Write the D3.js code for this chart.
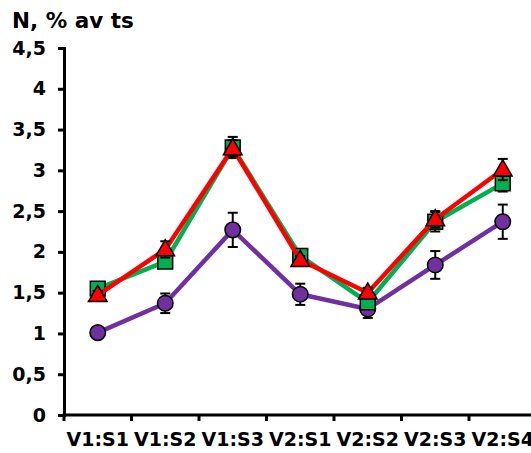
<!DOCTYPE html>
<html>
<head>
<meta charset="utf-8">
<script src="https://cdn.jsdelivr.net/npm/d3@7"></script>
<style>
  body { margin: 0; background: #fff; overflow: hidden; }
  svg { display: block; font-family: "DejaVu Sans", Verdana, sans-serif; font-weight: bold; }
</style>
</head>
<body>
<script>
// data
const categories = ["V1:S1", "V1:S2", "V1:S3", "V2:S1", "V2:S2", "V2:S3", "V2:S4"];
const greenVals = [1.55, 1.88, 3.28, 1.95, 1.38, 2.37, 2.84];
const greenErr  = [0.05, 0.06, 0.13, 0.06, 0.06, 0.12, 0.10];
const redVals   = [1.47, 2.03, 3.27, 1.90, 1.50, 2.40, 3.01];
const redErr    = [0.05, 0.10, 0.10, 0.05, 0.06, 0.10, 0.13];
const purpleVals = [1.01, 1.37, 2.27, 1.48, 1.30, 1.84, 2.37];
const purpleErr  = [0.06, 0.12, 0.21, 0.13, 0.11, 0.17, 0.21];
const yTicks = [0, 0.5, 1, 1.5, 2, 2.5, 3, 3.5, 4, 4.5];

const width = 531, height = 453;
const x0 = 64, bandW = 67.5;

const svg = d3.select("body").append("svg")
    .attr("width", width)
    .attr("height", height);

const x = d3.scaleBand()
    .domain(categories)
    .range([x0, x0 + bandW * categories.length]);

const y = d3.scaleLinear()
    .domain([0, 4.5])
    .range([415, 48]);

const fmt = d => String(d).replace(".", ",");

// title
svg.append("text")
    .attr("x", 12)
    .attr("y", 28)
    .attr("font-size", 21.5)
    .text("N, % av ts");

// y axis
const yAxis = svg.append("g")
    .attr("transform", `translate(${x0},0)`)
    .call(d3.axisLeft(y).tickValues(yTicks).tickFormat(fmt).tickSizeOuter(0).tickSize(6).tickPadding(12));
yAxis.select(".domain").attr("stroke", "#000").attr("stroke-width", 3);
yAxis.selectAll(".tick line").attr("stroke", "#000").attr("stroke-width", 3);
yAxis.selectAll(".tick text")
    .attr("font-size", 19)
    .attr("font-family", "DejaVu Sans, Verdana, sans-serif")
    .attr("font-weight", "bold")
    .attr("fill", "#000");

// x axis: labels centred in bands, ticks at band edges
const xAxis = svg.append("g")
    .attr("transform", `translate(0,${y(0)})`)
    .call(d3.axisBottom(x).tickSize(0).tickSizeOuter(0).tickPadding(18));
xAxis.select(".domain").attr("stroke", "#000").attr("stroke-width", 3)
    .attr("d", `M${x0 - 1.5},0H${width + 20}`);
xAxis.selectAll(".tick text")
    .attr("font-size", 19)
    .attr("font-family", "DejaVu Sans, Verdana, sans-serif")
    .attr("font-weight", "bold")
    .attr("fill", "#000");
xAxis.selectAll(".edge")
    .data(categories)
    .join("line")
    .attr("class", "edge")
    .attr("x1", d => x(d)).attr("x2", d => x(d))
    .attr("y1", 0).attr("y2", 6)
    .attr("stroke", "#000").attr("stroke-width", 3);

const cx = d => x(d) + x.bandwidth() / 2;
const line = d3.line().x(d => cx(d.c)).y(d => y(d.v));

function drawSeries(vals, errs, color, shape) {
    const pts = categories.map((c, i) => ({ c, v: vals[i], e: errs[i] }));
    const g = svg.append("g");

    g.append("path")
        .datum(pts)
        .attr("d", line)
        .attr("fill", "none")
        .attr("stroke", color)
        .attr("stroke-width", 4.5)
        .attr("stroke-linejoin", "round");

    // error bars
    const eb = g.selectAll(".err").data(pts).join("g").attr("class", "err");
    eb.append("line")
        .attr("x1", d => cx(d.c)).attr("x2", d => cx(d.c))
        .attr("y1", d => y(d.v + d.e)).attr("y2", d => y(d.v - d.e))
        .attr("stroke", "#000").attr("stroke-width", 2);
    [1, -1].forEach(s => {
        eb.append("line")
            .attr("x1", d => cx(d.c) - 5).attr("x2", d => cx(d.c) + 5)
            .attr("y1", d => y(d.v + s * d.e)).attr("y2", d => y(d.v + s * d.e))
            .attr("stroke", "#000").attr("stroke-width", 2);
    });

    // markers
    const sym = shape === "square" ? d3.symbolSquare
        : shape === "triangle" ? d3.symbolTriangle : d3.symbolCircle;
    const size = shape === "square" ? 220 : shape === "triangle" ? 150 : 190;
    g.selectAll(".mk").data(pts).join("path")
        .attr("class", "mk")
        .attr("transform", d => `translate(${cx(d.c)},${y(d.v) + (shape === "triangle" ? 1 : 0)})`)
        .attr("d", d3.symbol().type(sym).size(size))
        .attr("fill", color)
        .attr("stroke", "#000")
        .attr("stroke-width", 1.5);
}

drawSeries(purpleVals, purpleErr, "#7030a0", "circle");
drawSeries(greenVals, greenErr, "#00b050", "square");
drawSeries(redVals, redErr, "#ff0000", "triangle");
</script>
</body>
</html>
